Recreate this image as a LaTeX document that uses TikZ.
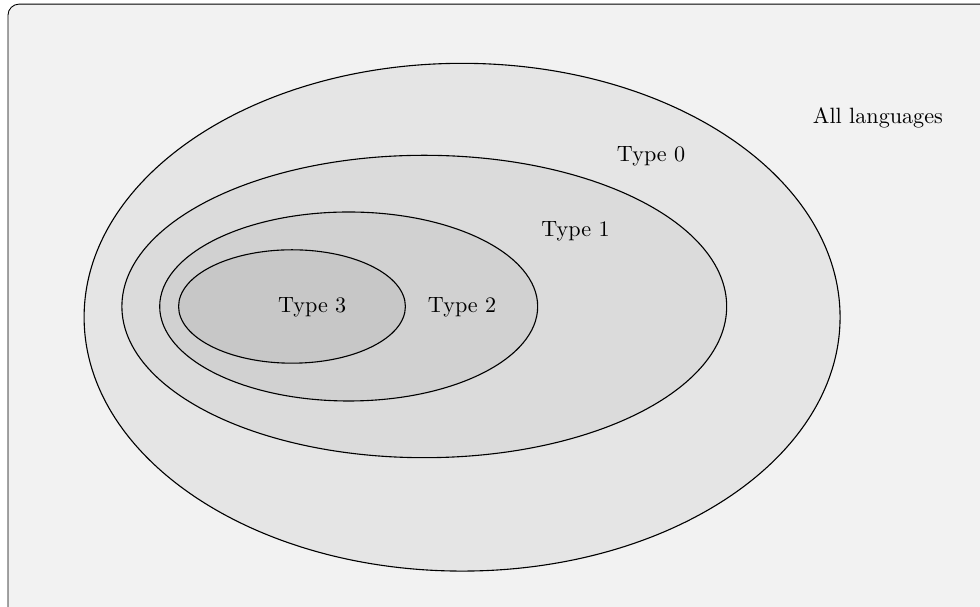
\documentclass[tikz,border=0pt]{standalone}
\tikzset{
  lang/.style = {draw=black, line width=0.5pt, fill=#1},
  lang/.default = black!10,
  tag/.style = {inner sep=0pt}
}

\begin{document}
\begin{tikzpicture}
	\def \W{8.821}
	\def \E{-6.735}
	\def \N{4.865}
	\def \S{-4.770}

	% Frame
	\useasboundingbox (\E,\S) rectangle (\W,\N);
	\clip (\E,\S) rectangle (\W,\N);
	\filldraw[fill=black!5, draw=black, line width=0.4pt, rounded corners=5pt] (-6.608,4.80) rectangle (9.6,-5.6);

	% Classes
	\draw[lang=black!10] (0.6,-0.17) ellipse (6 and 4.03);  % type 0
	\draw[lang=black!14] (0,0)       ellipse (4.8 and 2.4);  % type 1
	\draw[lang=black!18] (-1.2,0)    ellipse (3 and 1.5);    % type 2
	\draw[lang=black!22] (-2.1,0)    ellipse (1.8 and 0.9);  % type 3

	% Labels
	\node[tag] (all)   at (7.2,3.0)     {All languages};
	\node[tag] (type0) at (3.6,2.38)    {Type 0};
	\node[tag] (type1) at (2.4,1.19)    {Type 1};
	\node[tag] (type2) at (0.6,-0.02)   {Type 2};
	\node[tag] (type3) at (-1.78,-0.02) {Type 3};

\end{tikzpicture}
\end{document}
